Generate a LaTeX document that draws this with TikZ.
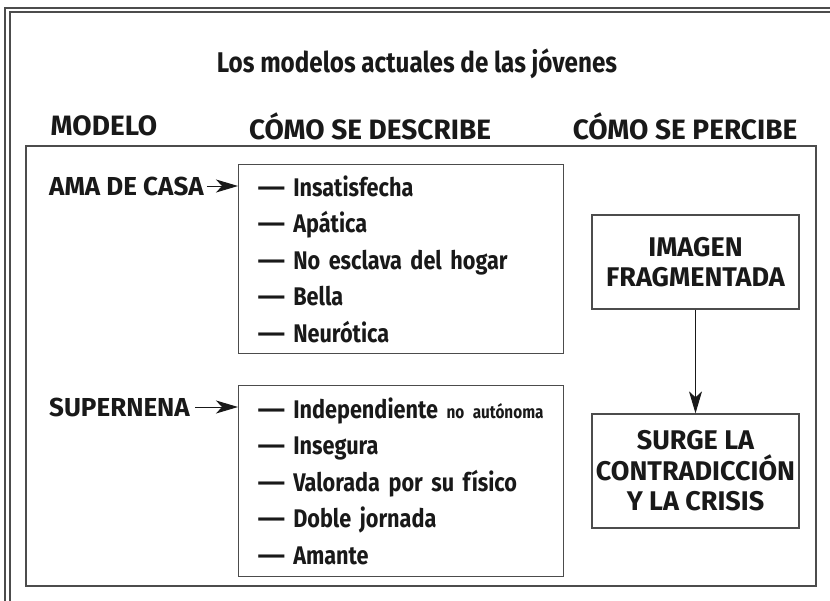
\documentclass[tikz,border=0pt]{standalone}
\usepackage{fontspec}
\usepackage{graphicx}
\setmainfont{Fira Sans}[FakeStretch=0.85]
\newfontfamily\versal{Fira Sans}
\usetikzlibrary{arrows.meta}
\definecolor{linegray}{gray}{0.3}
\definecolor{inkblack}{gray}{0.1}
\newcommand{\raya}{\scalebox{1.6}[1]{—}\hspace{8pt}}
\tikzset{
	titulo/.style = {font=\fontsize{28.5}{30}\selectfont\bfseries, text=inkblack},
	cabecera/.style = {font=\versal\fontsize{28}{32}\selectfont\bfseries, text=inkblack},
	modelo/.style = {font=\versal\fontsize{26}{30}\selectfont\bfseries, text=inkblack, anchor=west, inner sep=0pt},
	lista/.style = {draw=linegray, line width=1.3pt, text width=287pt, inner xsep=19pt, minimum height=189pt, align=left, anchor=north west, text=inkblack, font=\fontsize{25.5}{36.5}\selectfont\bfseries},
	percepcion/.style = {draw=linegray, line width=1.3pt, minimum width=207pt, align=center, text=inkblack, font=\versal\fontsize{27}{30.5}\selectfont\bfseries},
	flecha/.style = {-{Stealth[length=22pt, width=13pt, inset=6pt]}, line width=1pt, inkblack}
}
\begin{document}
\begin{tikzpicture}[x=1pt, y=-1pt]
	\useasboundingbox (0,0) rectangle (830,600);
	\draw[linegray, line width=1.4pt] (5,620) -- (5,8) -- (850,8);
	\draw[linegray, line width=1.4pt] (10,620) -- (10,12) -- (850,12);
	\draw[linegray, line width=1.8pt] (26,146) rectangle (816,586);
	\node[titulo] (titulo) at (417,64) {Los modelos actuales de las jóvenes};
	\node[cabecera] (modelo) at (104,126) {MODELO};
	\node[cabecera] (describe) at (370,126) {CÓMO SE DESCRIBE};
	\node[cabecera] (percibe) at (685,126) {CÓMO SE PERCIBE};
	\node[modelo] (ama) at (49,186) {AMA DE CASA};
	\node[modelo] (super) at (49,407) {SUPERNENA};
	\node[lista] (casa) at (238,164) {\raya Insatisfecha\\\raya Apática\\\raya No esclava del hogar\\\raya Bella\\\raya Neurótica};
	\node[lista, minimum height=191pt] (nena) at (238,385) {\mbox{\raya Independiente {\fontsize{18}{20}\selectfont no autónoma}}\\\raya Insegura\\\raya Valorada por su físico\\\raya Doble jornada\\\raya Amante};
	\node[percepcion, minimum height=94pt] (imagen) at (695.5,262) {IMAGEN\\FRAGMENTADA};
	\node[percepcion, minimum height=114pt] (crisis) at (695.5,471) {SURGE LA\\CONTRADICCIÓN\\Y LA CRISIS};
	\draw[flecha] (ama.east) ++(3,0) -- (ama.east -| casa.west);
	\draw[flecha] (super.east) ++(5,0) -- (super.east -| nena.west);
	\draw[flecha] (imagen) -- (crisis);
\end{tikzpicture}
\end{document}
